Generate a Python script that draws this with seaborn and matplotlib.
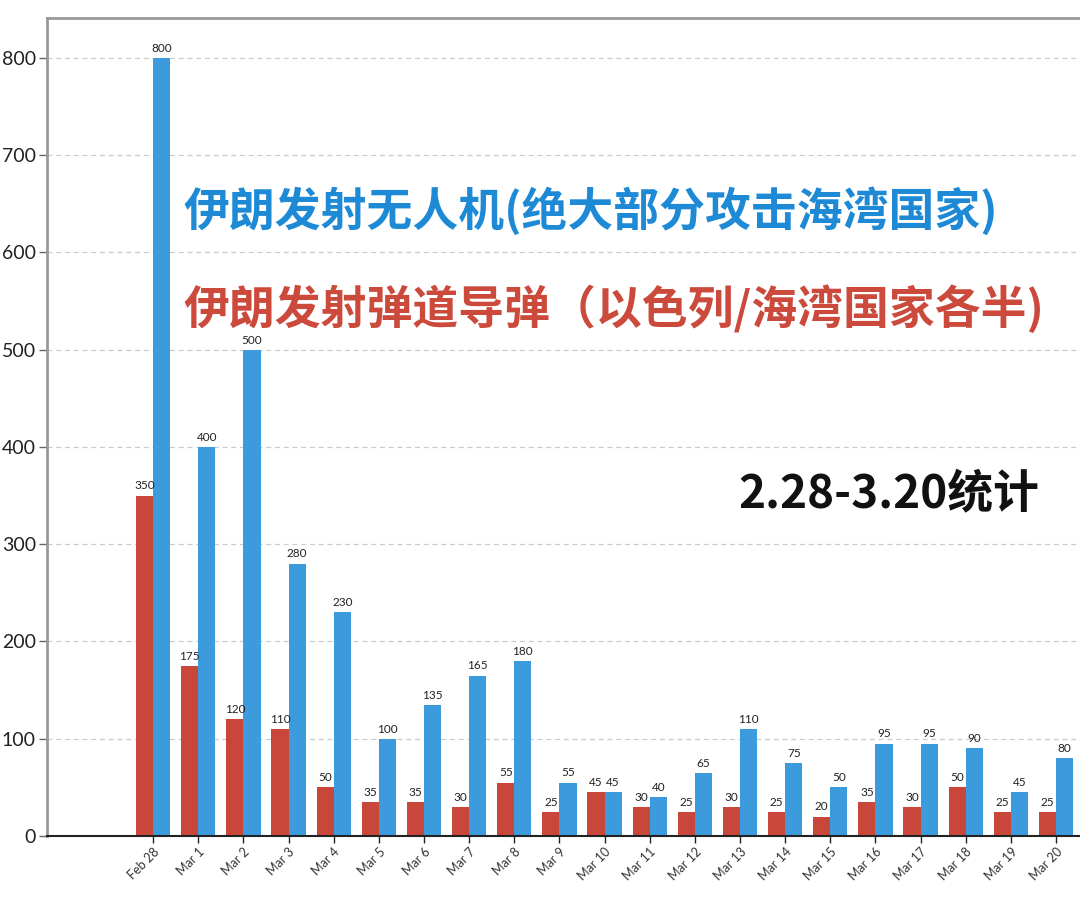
import matplotlib
matplotlib.use("Agg")
import matplotlib.pyplot as plt
import seaborn as sns
import pandas as pd

dates = ["Feb 28", "Mar 1", "Mar 2", "Mar 3", "Mar 4", "Mar 5", "Mar 6", "Mar 7",
         "Mar 8", "Mar 9", "Mar 10", "Mar 11", "Mar 12", "Mar 13", "Mar 14",
         "Mar 15", "Mar 16", "Mar 17", "Mar 18", "Mar 19", "Mar 20"]
missiles = [350, 175, 120, 110, 50, 35, 35, 30, 55, 25, 45, 30, 25, 30, 25, 20, 35, 30, 50, 25, 25]
drones = [800, 400, 500, 280, 230, 100, 135, 165, 180, 55, 45, 40, 65, 110, 75, 50, 95, 95, 90, 45, 80]
series = ["missiles", "drones"]
yticks = [0, 100, 200, 300, 400, 500, 600, 700, 800]

df = pd.DataFrame({
    "date": dates * 2,
    "value": missiles + drones,
    "series": [series[0]] * len(dates) + [series[1]] * len(dates),
})

sns.set_theme(style="white")
plt.rcParams['font.family'] = ['Lato', 'DejaVu Sans']

fig = plt.figure(figsize=(10.8, 9.06), dpi=100)
ax = fig.add_axes([47 / 1080, 70 / 906, 1 - 47 / 1080, (836 - 18) / 906])

red = "#c9473a"
blue = "#3b9bdc"
sns.barplot(data=df, x="date", y="value", hue="series", order=dates,
            hue_order=series, palette=[red, blue], width=0.76, gap=0,
            dodge=True, legend=False, ax=ax, saturation=1, linewidth=0)

for cont in ax.containers:
    ax.bar_label(cont, fontsize=8.5, padding=3, color="#222222")

ax.set_ylim(0, 841)
ax.set_xlim(-2.35, 20.53)
ax.set_yticks(yticks)
ax.set_yticklabels([str(v) for v in yticks], fontsize=14, color="#222222")
ax.set_xlabel("")
ax.set_ylabel("")
ax.tick_params(axis="y", length=6, width=1, color="#666666", pad=2, left=True)
ax.tick_params(axis="x", length=5, width=1, color="#222222", pad=2, bottom=True)
for lbl in ax.get_xticklabels():
    lbl.set_rotation(45)
    lbl.set_ha("right")
    lbl.set_rotation_mode("anchor")
    lbl.set_fontsize(9)
    lbl.set_color("#333333")

ax.yaxis.grid(True, linestyle=(0, (4, 3)), color="#cccccc", linewidth=0.9)
ax.set_axisbelow(True)
for s in ["left", "top"]:
    ax.spines[s].set_color("#999999")
    ax.spines[s].set_linewidth(2)
ax.spines["right"].set_visible(False)
ax.spines["bottom"].set_color("#222222")
ax.spines["bottom"].set_linewidth(1.5)

cjk = ['Noto Sans CJK SC', 'DejaVu Sans']
fig.text(183 / 1080, 1 - 211 / 906, "伊朗发射无人机(绝大部分攻击海湾国家)",
         fontsize=33, fontweight="bold", color="#1e8ad6", family=cjk,
         ha="left", va="center")
fig.text(183 / 1080, 1 - 309 / 906, "伊朗发射弹道导弹（以色列/海湾国家各半)",
         fontsize=33, fontweight="bold", color="#cc4a3c", family=cjk,
         ha="left", va="center")
fig.text(738 / 1080, 1 - 494 / 906, "2.28-3.20统计",
         fontsize=33, fontweight="bold", color="#111111", family=cjk,
         ha="left", va="center")

fig.savefig("out.png", dpi=100)
